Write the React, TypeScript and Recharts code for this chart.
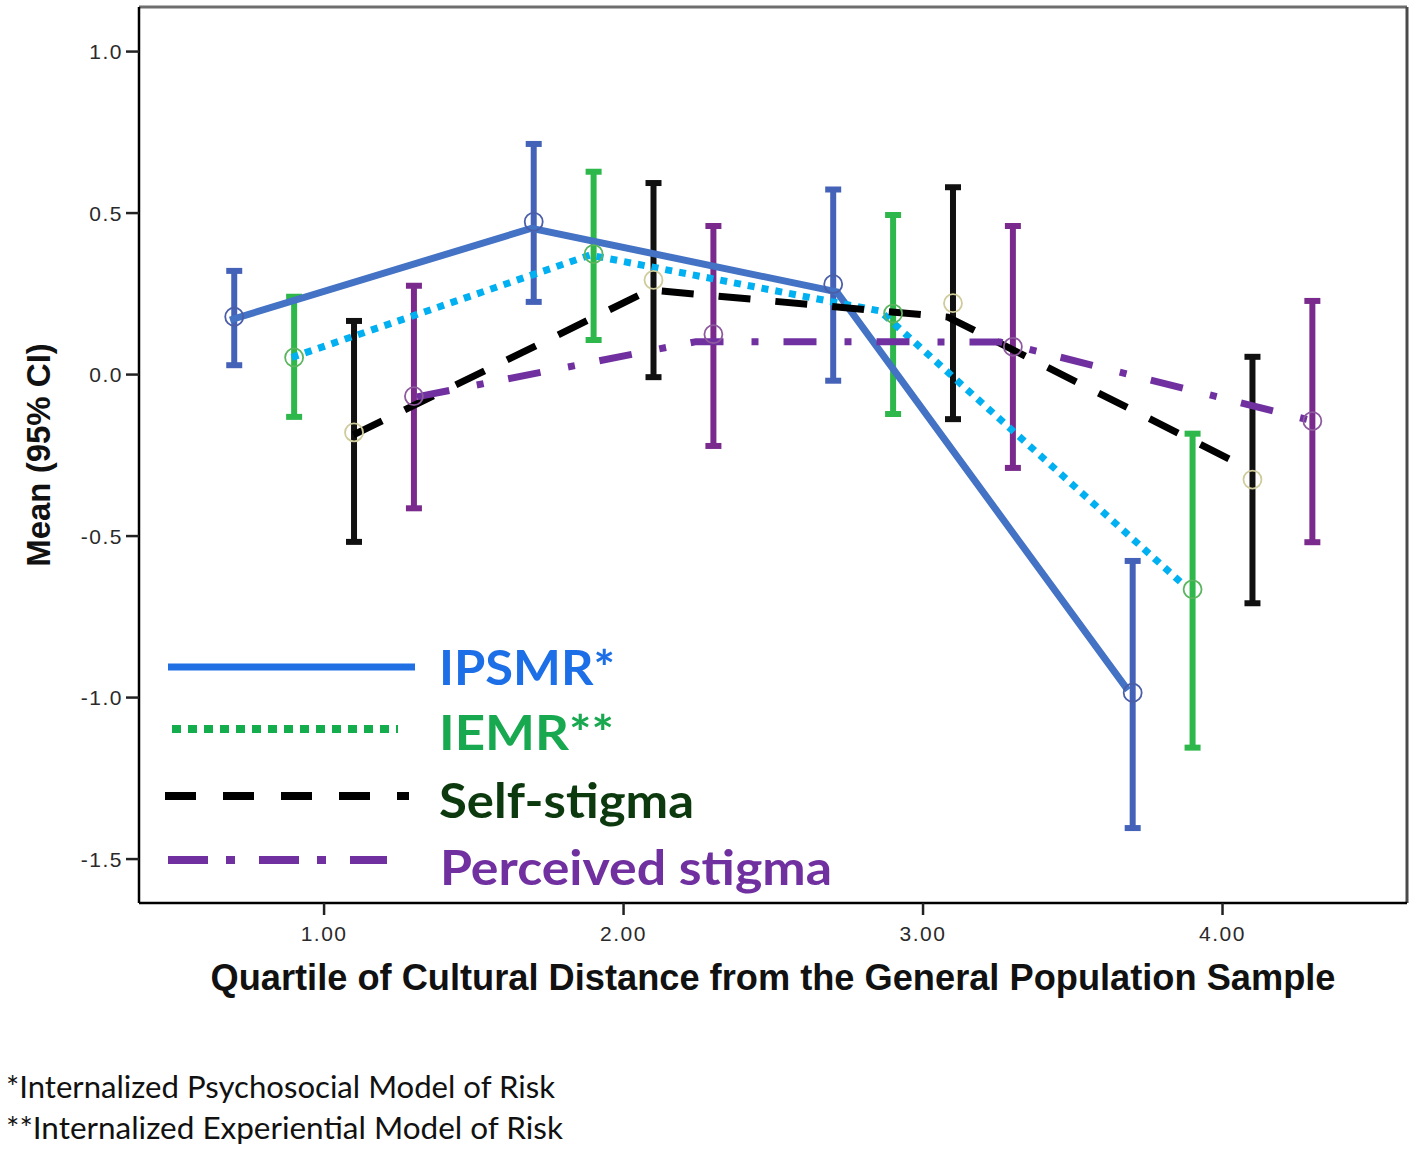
import React from 'react';
import { ComposedChart, Line, Scatter, XAxis, YAxis, ErrorBar, ReferenceLine, Legend } from 'recharts';

// ---------- data ----------
const quartiles = [1, 2, 3, 4];
const clusterOffsets = [-0.3, -0.1, 0.1, 0.3]; // IPSMR, IEMR, Self-stigma, Perceived stigma

const ipsmrMean = [0.179, 0.473, 0.28, -0.985];
const ipsmrLow = [0.029, 0.225, -0.019, -1.404];
const ipsmrHigh = [0.321, 0.714, 0.573, -0.577];

const iemrMean = [0.053, 0.373, 0.189, -0.665];
const iemrLow = [-0.131, 0.107, -0.122, -1.155];
const iemrHigh = [0.241, 0.628, 0.494, -0.183];

const selfMean = [-0.179, 0.293, 0.221, -0.325];
const selfLow = [-0.518, -0.008, -0.138, -0.708];
const selfHigh = [0.166, 0.593, 0.58, 0.055];

const percMean = [-0.067, 0.125, 0.086, -0.144];
const percLow = [-0.414, -0.221, -0.289, -0.519];
const percHigh = [0.275, 0.46, 0.46, 0.228];

// overlaid trend lines (as drawn on the figure)
const ipsmrTraceX = [0.686, 1.693, 2.712, 3.684];
const ipsmrTraceY = [0.169, 0.453, 0.256, -0.977];
const iemrTraceX = [0.892, 1.888, 2.856, 3.869];
const iemrTraceY = [0.053, 0.37, 0.197, -0.65];
const selfTraceX = [1.098, 2.088, 3.083, 4.069];
const selfTraceY = [-0.187, 0.262, 0.178, -0.283];
const percTraceX = [1.31, 2.242, 3.257, 4.303];
const percTraceY = [-0.069, 0.102, 0.101, -0.144];

const xTicks = [1, 2, 3, 4];
const yTicks = [-1.5, -1.0, -0.5, 0.0, 0.5, 1.0];
const xDomain = [0.382, 4.616];
const yDomain = [-1.636, 1.138];

const legendLabels = ['IPSMR*', 'IEMR**', 'Self-stigma', 'Perceived stigma'];
const xTitle = 'Quartile of Cultural Distance from the General Population Sample';
const yTitle = 'Mean (95% CI)';
const footnotes = ['*Internalized Psychosocial Model of Risk', '**Internalized Experiential Model of Risk'];

// ---------- helpers ----------
const buildPoints = (mean: number[], low: number[], high: number[], offset: number) =>
  quartiles.map((q, i) => ({ x: q + offset, y: mean[i], err: [mean[i] - low[i], high[i] - mean[i]] }));
const buildTrace = (xs: number[], ys: number[]) => xs.map((x, i) => ({ x, y: ys[i] }));

const series = [
  {
    points: buildPoints(ipsmrMean, ipsmrLow, ipsmrHigh, clusterOffsets[0]),
    trace: buildTrace(ipsmrTraceX, ipsmrTraceY),
    bar: '#4462b8', ring: '#4b5ea8', line: '#4472c4', dash: undefined as string | undefined,
  },
  {
    points: buildPoints(iemrMean, iemrLow, iemrHigh, clusterOffsets[1]),
    trace: buildTrace(iemrTraceX, iemrTraceY),
    bar: '#2eb84b', ring: '#5ab55e', line: '#00b0f0', dash: '7 7',
  },
  {
    points: buildPoints(selfMean, selfLow, selfHigh, clusterOffsets[2]),
    trace: buildTrace(selfTraceX, selfTraceY),
    bar: '#111111', ring: '#cfcb9a', line: '#000000', dash: '32 25',
  },
  {
    points: buildPoints(percMean, percLow, percHigh, clusterOffsets[3]),
    trace: buildTrace(percTraceX, percTraceY),
    bar: '#7a2a8c', ring: '#8e5a9e', line: '#7030a0', dash: '33 28 7 25',
  },
];

const ringShape = (color: string) => (props: any) => (
  <circle cx={props.cx} cy={props.cy} r={9} fill="none" stroke={color} strokeWidth={1.8} />
);

const legendStyles = [
  { color: '#2170e3', dash: undefined as string | undefined, x1: 18, x2: 265, ly: 37, w: 7, text: '#1c6fe6', tx: 439, tl: 176, ty: 55 },
  { color: '#14ad4d', dash: '9 7', x1: 22, x2: 248, ly: 99, w: 8, text: '#18a850', tx: 439, tl: 175, ty: 120 },
  { color: '#000000', dash: '31 27', x1: 15, x2: 259, ly: 166, w: 8, text: '#0c3a0e', tx: 439, tl: 255, ty: 188 },
  { color: '#7030a0', dash: '40 18 9 24', x1: 18, x2: 237, ly: 230, w: 8, text: '#7030a0', tx: 440, tl: 392, ty: 255 },
];

const renderLegend = () => (
  <svg width={700} height={270} style={{ display: 'block', overflow: 'visible' }}>
    {legendLabels.map((label, i) => {
      const s = legendStyles[i];
      return (
        <g key={label}>
          <line x1={s.x1} x2={s.x2} y1={s.ly} y2={s.ly} stroke={s.color} strokeWidth={s.w} strokeDasharray={s.dash} />
          <text
            x={s.tx - 150}
            y={s.ty}
            fill={s.text}
            fontFamily="Lato, 'Open Sans', sans-serif"
            fontWeight={700}
            fontSize={47}
            textLength={s.tl}
            lengthAdjust="spacingAndGlyphs"
          >
            {label}
          </text>
        </g>
      );
    })}
  </svg>
);

const tickStyle = { fontSize: 21, fill: '#2a2a2a', fontFamily: "'Liberation Sans', Arial, sans-serif", letterSpacing: 1.5 };

const XTitle = (props: any) => {
  const vb = props.viewBox || { x: 139, y: 903, width: 1268, height: 107 };
  return (
    <text
      x={vb.x + vb.width / 2}
      y={vb.y + 87}
      textAnchor="middle"
      fontFamily="'Liberation Sans', Arial, sans-serif"
      fontWeight={700}
      fontSize={36}
      fill="#111"
      textLength={1125}
      lengthAdjust="spacingAndGlyphs"
    >
      {xTitle}
    </text>
  );
};

const YTitle = (props: any) => {
  const vb = props.viewBox || { x: 0, y: 7, width: 139, height: 896 };
  const cx = 50;
  const cy = vb.y + vb.height / 2;
  return (
    <text
      x={cx}
      y={cy}
      transform={`rotate(-90, ${cx}, ${cy})`}
      textAnchor="middle"
      fontFamily="'Liberation Sans', Arial, sans-serif"
      fontWeight={700}
      fontSize={33}
      fill="#111"
    >
      {yTitle}
    </text>
  );
};

export default function App() {
  return (
    <div style={{ position: 'absolute', left: 0, top: 0, width: 1417, height: 1152, background: '#fff' }}>
      <ComposedChart width={1417} height={1010} margin={{ top: 7, right: 10, bottom: 0, left: 0 }}>
        <XAxis
          type="number"
          dataKey="x"
          domain={xDomain}
          ticks={xTicks}
          allowDataOverflow
          height={107}
          tickFormatter={(v: number) => v.toFixed(2)}
          axisLine={{ stroke: '#000', strokeWidth: 2.5 }}
          tickLine={{ stroke: '#222', strokeWidth: 2.5 }}
          tickSize={12}
          tickMargin={11}
          tick={tickStyle}
          label={<XTitle />}
        />
        <YAxis
          type="number"
          dataKey="y"
          domain={yDomain}
          ticks={yTicks}
          allowDataOverflow
          width={139}
          tickFormatter={(v: number) => v.toFixed(1)}
          axisLine={{ stroke: '#000', strokeWidth: 2.5 }}
          tickLine={{ stroke: '#222', strokeWidth: 2.5 }}
          tickSize={13}
          tickMargin={3}
          tick={tickStyle}
          label={<YTitle />}
        />
        <ReferenceLine y={yDomain[1]} stroke="#6e6e6e" strokeWidth={3} />
        <ReferenceLine x={xDomain[1]} stroke="#4a4a4a" strokeWidth={3} />
        {series.map((s, i) => (
          <Scatter
            key={`pts-${i}`}
            data={s.points}
            dataKey="y"
            isAnimationActive={false}
            shape={ringShape(s.ring)}
            legendType="none"
          >
            <ErrorBar dataKey="err" direction="y" width={8} strokeWidth={6} stroke={s.bar} isAnimationActive={false} />
          </Scatter>
        ))}
        {series.map((s, i) => (
          <Line
            key={`trace-${i}`}
            data={s.trace}
            dataKey="y"
            type="linear"
            stroke={s.line}
            strokeWidth={7}
            strokeDasharray={s.dash}
            dot={false}
            activeDot={false}
            isAnimationActive={false}
            legendType="none"
          />
        ))}
        <Legend
          layout="horizontal"
          align="center"
          verticalAlign="middle"
          content={renderLegend}
          wrapperStyle={{ left: 150, top: 630, width: 700, height: 270 }}
        />
      </ComposedChart>
      <div style={{ position: 'absolute', left: 0, top: 1050 }}>
        <svg width={700} height={100} style={{ display: 'block' }}>
          <text x={6} y={47.7} fontFamily="Lato, 'Open Sans', sans-serif" fontSize={31} fill="#111" textLength={549} lengthAdjust="spacingAndGlyphs">
            {footnotes[0]}
          </text>
          <text x={6} y={89} fontFamily="Lato, 'Open Sans', sans-serif" fontSize={31} fill="#111" textLength={557} lengthAdjust="spacingAndGlyphs">
            {footnotes[1]}
          </text>
        </svg>
      </div>
    </div>
  );
}
